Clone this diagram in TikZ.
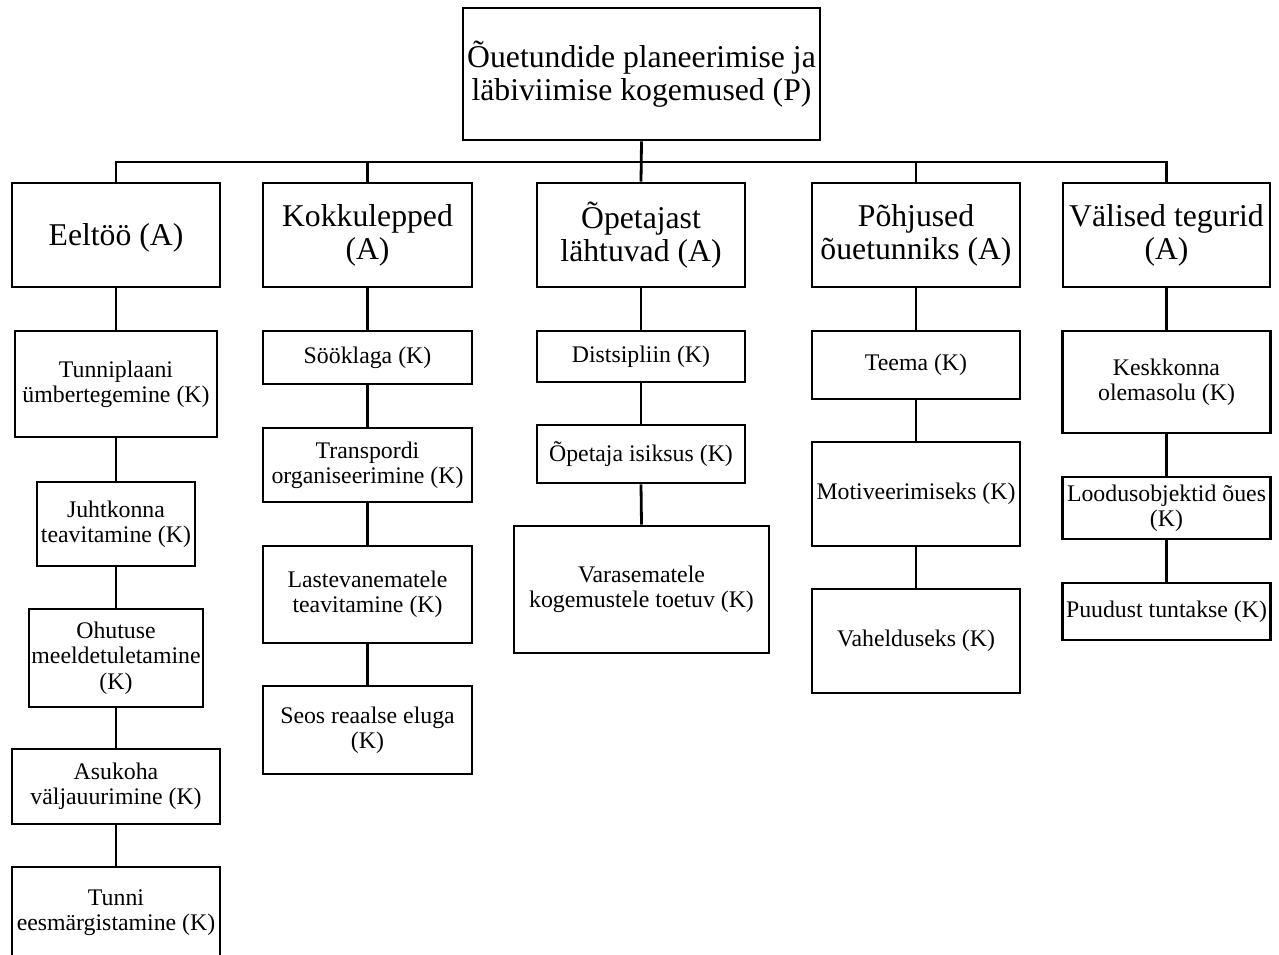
\documentclass[tikz,border=0pt]{standalone}
\usepackage{fontspec}
\setmainfont{Liberation Serif}
\tikzset{
  box/.style={draw, line width=2.8pt, inner sep=0pt, align=center, fill=white},
  big/.style={font=\fontsize{31.7}{33}\selectfont},
  small/.style={font=\fontsize{23.8}{25.3}\selectfont},
  link/.style={line width=2.8pt}
}
\begin{document}
\begin{tikzpicture}[x=1pt,y=-1pt]
\useasboundingbox (0,0) rectangle (1279,955);
% top
\node[box,big,minimum width=357pt,minimum height=132pt] (top) at (641.5,74) {Õuetundide planeerimise ja\\läbiviimise kogemused (P)};
% level 2
\node[box,big,minimum width=208pt,minimum height=104pt] (a1) at (116,235) {\raisebox{-3pt}[\height][\depth]{Eeltöö (A)}};
\node[box,big,minimum width=209pt,minimum height=104pt] (a2) at (367.5,235) {Kokkulepped\\(A)};
\node[box,big,minimum width=208pt,minimum height=104pt] (a3) at (641,235) {Õpetajast\\lähtuvad (A)};
\node[box,big,minimum width=208pt,minimum height=104pt] (a4) at (916,235) {Põhjused\\õuetunniks (A)};
\node[box,big,minimum width=207pt,minimum height=104pt] (a5) at (1166.5,235) {Välised tegurid\\(A)};
% column 1
\node[box,small,minimum width=202pt,minimum height=106pt] (b11) at (116,384) {Tunniplaani\\ümbertegemine (K)};
\node[box,small,minimum width=158pt,minimum height=84pt] (b12) at (116,524) {Juhtkonna\\teavitamine (K)};
\node[box,small,minimum width=174pt,minimum height=98pt] (b13) at (116,658) {Ohutuse\\meeldetuletamine\\(K)};
\node[box,small,minimum width=208pt,minimum height=75pt] (b14) at (116,786.5) {Asukoha\\väljauurimine (K)};
\node[box,small,minimum width=208pt,minimum height=91pt] (b15) at (116,912.5) {Tunni\\eesmärgistamine (K)};
% column 2
\node[box,small,minimum width=209pt,minimum height=53pt] (b21) at (367.5,357.5) {Sööklaga (K)};
\node[box,small,minimum width=209pt,minimum height=74pt] (b22) at (367.5,465) {Transpordi\\organiseerimine (K)};
\node[box,small,minimum width=209pt,minimum height=97pt] (b23) at (367.5,594.5) {Lastevanematele\\teavitamine (K)};
\node[box,small,minimum width=209pt,minimum height=88pt] (b24) at (367.5,730) {Seos reaalse eluga\\(K)};
% column 3
\node[box,small,minimum width=208pt,minimum height=51pt] (b31) at (641,356.5) {Distsipliin (K)};
\node[box,small,minimum width=208pt,minimum height=58pt] (b32) at (641,454) {Õpetaja isiksus (K)};
\node[box,small,minimum width=255pt,minimum height=127pt] (b33) at (641.5,589.5) {Varasematele\\kogemustele toetuv (K)};
% column 4
\node[box,small,minimum width=208pt,minimum height=68pt] (b41) at (916,365) {Teema (K)};
\node[box,small,minimum width=208pt,minimum height=104pt] (b42) at (916,494) {Motiveerimiseks (K)};
\node[box,small,minimum width=208pt,minimum height=104pt] (b43) at (916,641) {Vahelduseks (K)};
% column 5
\node[box,small,minimum width=208pt,minimum height=102pt] (b51) at (1166.5,382) {Keskkonna\\olemasolu (K)};
\node[box,small,minimum width=208pt,minimum height=62pt] (b52) at (1166.5,508) {Loodusobjektid õues\\(K)};
\node[box,small,minimum width=208pt,minimum height=57pt] (b53) at (1166.5,611.5) {Puudust tuntakse (K)};
% bus
\coordinate (bus) at (641,162);
\draw[link] (top.south) -- (a3.north);
\draw[link] (a1.north) -- (a1.north |- bus) -- (a5.north |- bus) -- (a5.north);
\draw[link] (a2.north) -- (a2.north |- bus);
\draw[link] (a4.north) -- (a4.north |- bus);
% columns
\draw[link] (a1.south) -- (b11.north);
\draw[link] (b11.south) -- (b12.north);
\draw[link] (b12.south) -- (b13.north);
\draw[link] (b13.south) -- (b14.north);
\draw[link] (b14.south) -- (b15.north);
\draw[link] (a2.south) -- (b21.north);
\draw[link] (b21.south) -- (b22.north);
\draw[link] (b22.south) -- (b23.north);
\draw[link] (b23.south) -- (b24.north);
\draw[link] (a3.south) -- (b31.north);
\draw[link] (b31.south) -- (b32.north);
\draw[link] (b32.south) -- (b33.north);
\draw[link] (a4.south) -- (b41.north);
\draw[link] (b41.south) -- (b42.north);
\draw[link] (b42.south) -- (b43.north);
\draw[link] (a5.south) -- (b51.north);
\draw[link] (b51.south) -- (b52.north);
\draw[link] (b52.south) -- (b53.north);
\end{tikzpicture}
\end{document}
